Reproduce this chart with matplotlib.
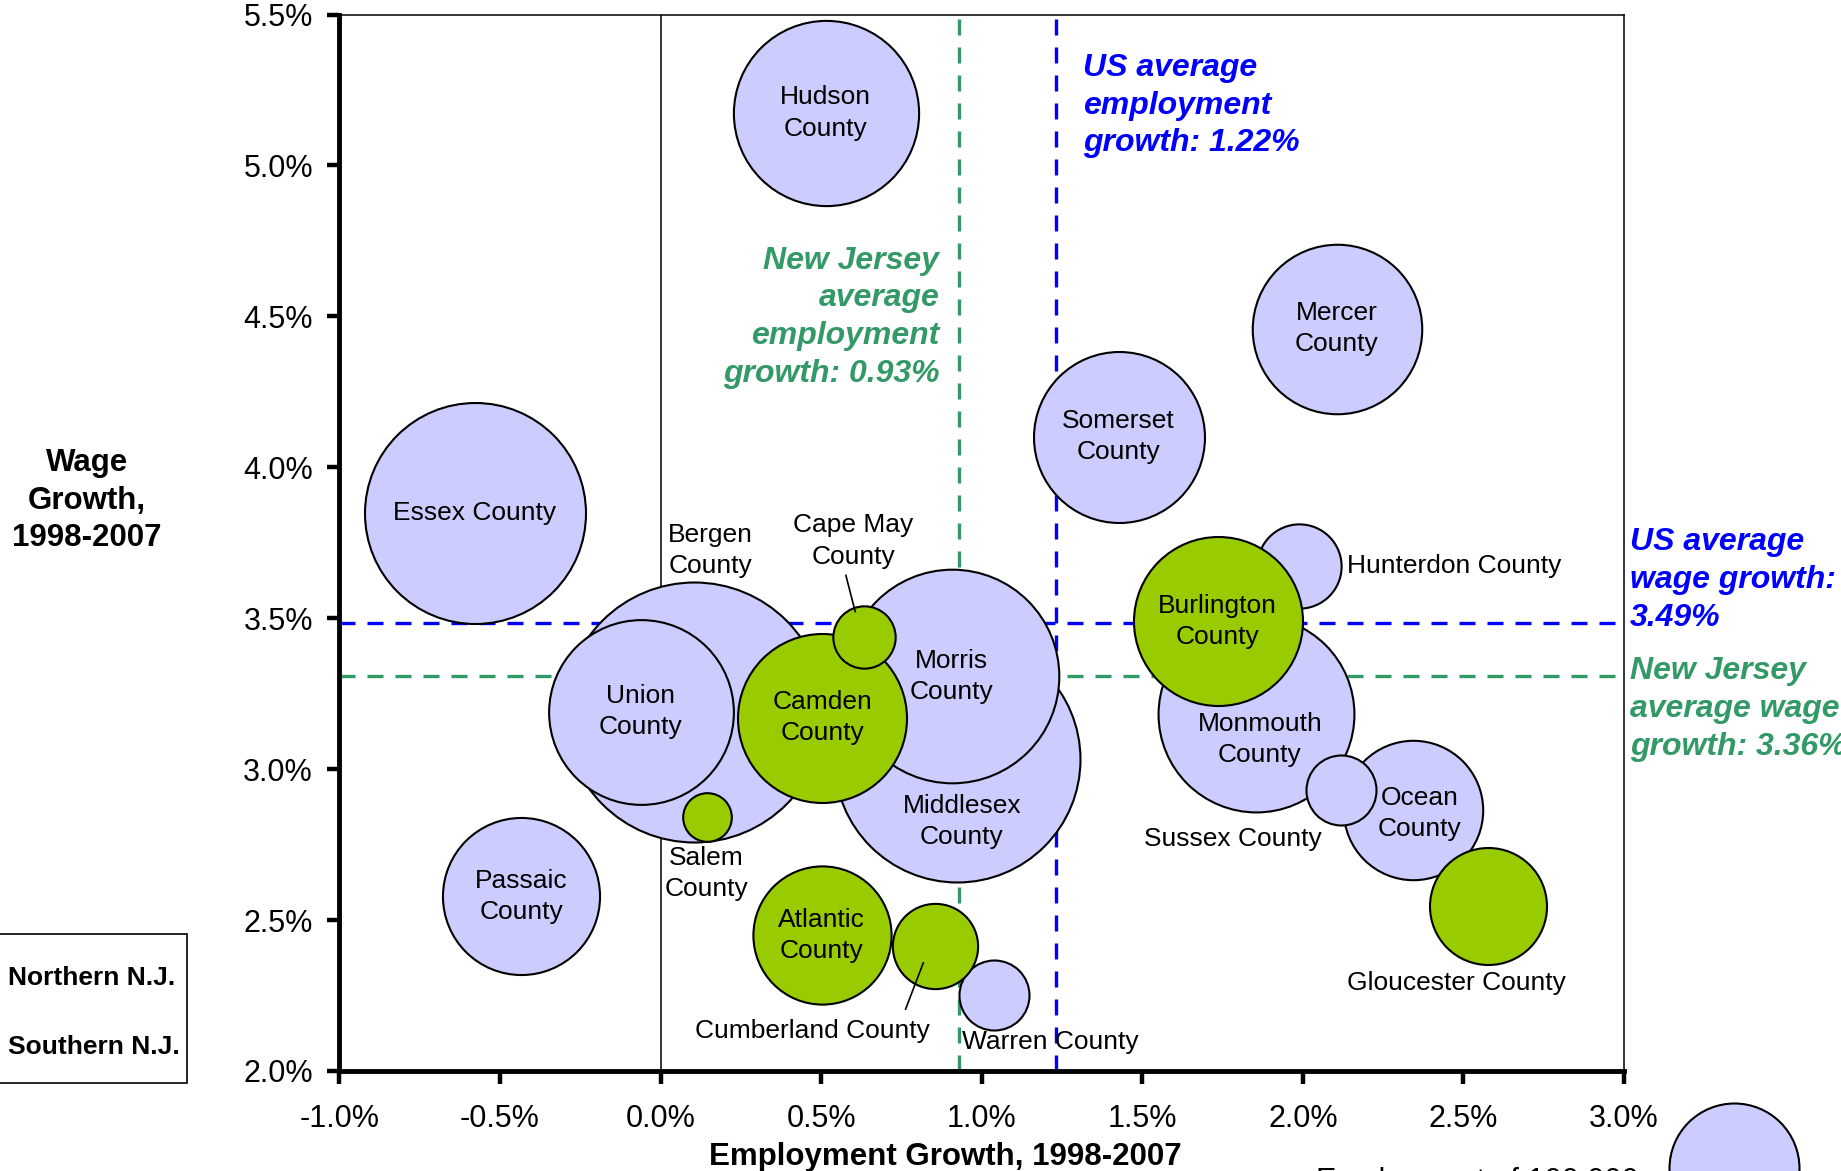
import numpy as np
import matplotlib.pyplot as plt
from matplotlib.patches import Rectangle

plt.rcParams['font.family'] = ['Liberation Sans', 'DejaVu Sans']

# county data: employment growth (%), wage growth (%), employment (thousands)
north_names = ['Hudson\nCounty', 'Essex County', 'Mercer\nCounty', 'Somerset\nCounty',
               'Hunterdon County', 'Bergen\nCounty', 'Union\nCounty', 'Morris\nCounty',
               'Middlesex\nCounty', 'Monmouth\nCounty', 'Sussex County', 'Ocean\nCounty',
               'Passaic\nCounty', 'Warren County']
north_emp_growth = [0.514, -0.579, 2.105, 1.426, 1.989, 0.104, -0.062, 0.907,
                    0.924, 1.854, 2.118, 2.343, -0.434, 1.037]
north_wage_growth = [5.174, 3.848, 4.459, 4.102, 3.672, 3.190, 3.190, 3.307,
                     3.035, 3.182, 2.931, 2.866, 2.579, 2.253]
north_employment = [203, 289, 170, 173, 42, 400, 202, 270, 358, 227, 29, 115, 146, 29]

south_names = ['Burlington\nCounty', 'Camden\nCounty', 'Cape May\nCounty', 'Salem\nCounty',
               'Atlantic\nCounty', 'Cumberland County', 'Gloucester County']
south_emp_growth = [1.735, 0.504, 0.634, 0.145, 0.502, 0.855, 2.576]
south_wage_growth = [3.490, 3.170, 3.438, 2.840, 2.449, 2.415, 2.546]
south_employment = [169, 169, 23, 14, 113, 43, 81]

us_emp_avg = 1.23
nj_emp_avg = 0.93
us_wage_avg = 3.485
nj_wage_avg = 3.31
legend_employment = 100

x_ticks = np.arange(-1.0, 3.01, 0.5)
y_ticks = np.arange(2.0, 5.51, 0.5)

DPI = 100
LAV = '#CCCCFF'
GRN = '#99CC00'
BLUE = '#0000FF'
SEA = '#339966'

# label placement: name -> (x, y, ha)
label_pos = {
    'Bergen\nCounty': (0.156, 3.724, 'center'),
    'Cape May\nCounty': (0.600, 3.756, 'center'),
    'Salem\nCounty': (0.142, 2.654, 'center'),
    'Middlesex\nCounty': (0.938, 2.827, 'center'),
    'Monmouth\nCounty': (1.866, 3.099, 'center'),
    'Hunterdon County': (2.138, 3.672, 'left'),
    'Sussex County': (1.781, 2.770, 'center'),
    'Ocean\nCounty': (2.364, 2.854, 'center'),
    'Gloucester County': (2.477, 2.293, 'center'),
    'Cumberland County': (0.474, 2.131, 'center'),
    'Warren County': (1.214, 2.097, 'center'),
}


def bubble_size(emp):
    r_px = 65 * np.sqrt(np.asarray(emp) / 100.0)
    return (2 * r_px * 72.0 / DPI) ** 2


fig = plt.figure(figsize=(18.41, 11.71), dpi=DPI)
ax = fig.add_axes([0.1844, 0.0854, 0.6977, 0.9022])
ax.set_xlim(-1.0, 3.0)
ax.set_ylim(2.0, 5.5)

# reference lines
ax.axvline(0, color='black', lw=1.1, zorder=1)
ax.axvline(nj_emp_avg, color=SEA, lw=2.4, ls=(0, (4.8, 3.6)), zorder=1)
ax.axvline(us_emp_avg, color=BLUE, lw=2.4, ls=(0, (4.8, 3.6)), zorder=1)
ax.axhline(us_wage_avg, color=BLUE, lw=2.4, ls=(0, (4.8, 3.6)), zorder=1)
ax.axhline(nj_wage_avg, color=SEA, lw=2.4, ls=(0, (4.8, 3.6)), zorder=1)

# bubbles: each group drawn large to small, south on top of north
z = 3
for names, xs, ys, emps, col in [
        (north_names, north_emp_growth, north_wage_growth, north_employment, LAV),
        (south_names, south_emp_growth, south_wage_growth, south_employment, GRN)]:
    order = np.argsort(emps)[::-1]
    for i in order:
        ax.scatter(xs[i], ys[i], s=bubble_size(emps[i]), c=col, edgecolors='black',
                   linewidths=1.5, zorder=z)
        z += 1
        if names[i] in label_pos:
            lx, ly, ha = label_pos[names[i]]
        else:
            lx, ly, ha = xs[i], ys[i], 'center'
        ax.text(lx, ly, names[i], ha=ha, va='center', fontsize=19, zorder=50,
                multialignment='center', linespacing=1.38)

# leader lines
ax.plot([0.577, 0.606], [3.642, 3.522], color='black', lw=1.2, zorder=60)
ax.plot([0.763, 0.818], [2.205, 2.358], color='black', lw=1.2, zorder=60)

# average annotations
note = dict(fontsize=23, fontweight='bold', style='italic', va='center', linespacing=1.34)
ax.text(0.868, 4.497, 'New Jersey\naverage\nemployment\ngrowth: 0.93%', color=SEA,
        ha='right', multialignment='right', zorder=50, **note)
ax.text(1.316, 5.198, 'US average\nemployment\ngrowth: 1.22%', color=BLUE,
        ha='left', zorder=50, **note)
ax.text(3.019, 3.626, 'US average\nwage growth:\n3.49%', color=BLUE,
        ha='left', clip_on=False, **note)
ax.text(3.019, 3.199, 'New Jersey\naverage wage\ngrowth: 3.36%', color=SEA,
        ha='left', clip_on=False, **note)

# size legend bubble (cut off at bottom right)
ax.scatter(3.344, 1.679, s=bubble_size(legend_employment), c=LAV, edgecolors='black',
           linewidths=1.5, clip_on=False, zorder=5)
ax.text(3.046, 1.682, 'Employment of 100,000', ha='right', va='top', fontsize=22,
        clip_on=False)

# axes styling
for side in ['left', 'bottom']:
    ax.spines[side].set_linewidth(3.5)
for side in ['top', 'right']:
    ax.spines[side].set_linewidth(1.1)
ax.set_xticks(x_ticks)
ax.set_xticklabels([f'{v:.1f}%' for v in x_ticks])
ax.set_yticks(y_ticks)
ax.set_yticklabels([f'{v:.1f}%' for v in y_ticks])
ax.tick_params(axis='x', direction='out', length=9, width=3.2, labelsize=22, pad=15)
ax.tick_params(axis='y', direction='out', length=9, width=3.2, labelsize=22, pad=10)

fig.text(0.0471, 0.5725, 'Wage\nGrowth,\n1998-2007', ha='center', va='center',
         fontsize=22.5, fontweight='bold', multialignment='center', linespacing=1.33)
fig.text(0.5133, 0.0122, 'Employment Growth, 1998-2007', ha='center', va='center',
         fontsize=22.5, fontweight='bold')

# group legend box (markers fall off the left edge)
fig.patches.append(Rectangle((-0.01, 0.0754), 0.1114, 0.127, transform=fig.transFigure,
                             facecolor='white', edgecolor='black', lw=1.2))
fig.text(0.0045, 0.1650, 'Northern N.J.', ha='left', va='center', fontsize=19,
         fontweight='bold')
fig.text(0.0045, 0.1055, 'Southern N.J.', ha='left', va='center', fontsize=19,
         fontweight='bold')

fig.savefig('out.png', dpi=DPI)
